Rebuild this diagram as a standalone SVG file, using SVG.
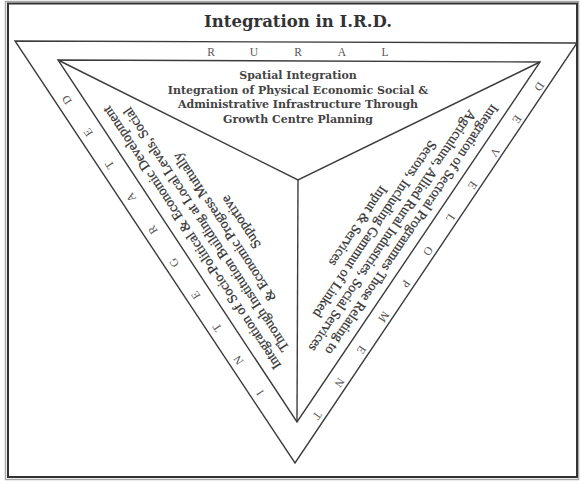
<svg xmlns="http://www.w3.org/2000/svg" width="581" height="484" viewBox="0 0 581 484">
<style>
.ln{fill:none;stroke:#3c3c3c;stroke-width:1.4;stroke-linejoin:miter}
.ttl{font-family:"DejaVu Serif","Liberation Serif",serif;font-weight:bold;fill:#333;text-anchor:middle}
.ctr{font-family:"DejaVu Serif","Liberation Serif",serif;font-weight:bold;font-size:11px;fill:#444;text-anchor:middle}
.rot{font-family:"Liberation Serif",serif;font-size:13.8px;fill:#333;stroke:#333;stroke-width:0.25;text-anchor:middle}
.let{font-family:"Liberation Serif",serif;font-size:11.5px;fill:#555;text-anchor:middle}
</style>
<rect x="0" y="0" width="581" height="484" fill="#fff"/>
<g id="frame">
<rect x="5.5" y="1.5" width="573" height="478" fill="none" stroke="#aaa" stroke-width="1.5"/>
<rect x="8" y="3.5" width="569" height="473.5" fill="none" stroke="#333" stroke-width="2"/>
</g>
<g id="title"><text class="ttl" x="298" y="27" font-size="16.5">Integration in I.R.D.</text></g>
<g id="connectors">
<polygon class="ln" points="15,41 577,43 295,463"/>
<polygon class="ln" points="58,60 540,62 297,422"/>
<polyline class="ln" points="58,60 298,180 540,62"/>
<line class="ln" x1="298" y1="180" x2="297" y2="422"/>
</g>
<g id="rural">
<text class="let" x="211" y="56">R</text>
<text class="let" x="254" y="56">U</text>
<text class="let" x="298" y="56">R</text>
<text class="let" x="342" y="56">A</text>
<text class="let" x="385" y="56">L</text>
</g>
<g id="integrated" transform="rotate(236.57)">
<text class="let" x="-471" y="4.5">I</text>
<text class="let" x="-432" y="4.5">N</text>
<text class="let" x="-393" y="4.5">T</text>
<text class="let" x="-354" y="4.5">E</text>
<text class="let" x="-315" y="4.5">G</text>
<text class="let" x="-276" y="4.5">R</text>
<text class="let" x="-237" y="4.5">A</text>
<text class="let" x="-198" y="4.5">T</text>
<text class="let" x="-159" y="4.5">E</text>
<text class="let" x="-120" y="4.5">D</text>
</g>
<g id="development" transform="rotate(124.02)">
<text class="let" x="-230" y="-491.5">D</text>
<text class="let" x="-190.3" y="-491.5">E</text>
<text class="let" x="-150.6" y="-491.5">V</text>
<text class="let" x="-110.9" y="-491.5">E</text>
<text class="let" x="-71.2" y="-491.5">L</text>
<text class="let" x="-31.5" y="-491.5">O</text>
<text class="let" x="8.2" y="-491.5">P</text>
<text class="let" x="47.9" y="-491.5">M</text>
<text class="let" x="87.6" y="-491.5">E</text>
<text class="let" x="127.3" y="-491.5">N</text>
<text class="let" x="167" y="-491.5">T</text>
</g>
<g id="spatial">
<text class="ctr" x="298" y="79">Spatial Integration</text>
<text class="ctr" x="298" y="93.5">Integration of Physical Economic Social &amp;</text>
<text class="ctr" x="298" y="108">Administrative Infrastructure Through</text>
<text class="ctr" x="298" y="122.5">Growth Centre Planning</text>
</g>
<g id="socio-political" transform="rotate(236.57)">
<text class="rot" x="-304" y="33.5">Integration of Socio-Political &amp; Economic Development</text>
<text class="rot" x="-305" y="50">Through Institution Building at Local Levels, Social</text>
<text class="rot" x="-313" y="66.5">&amp; Economic Progress Mutually</text>
<text class="rot" x="-318" y="83">Supportive</text>
</g>
<g id="sectoral" transform="rotate(124.02)">
<text class="rot" x="-40" y="-465.5">Integration of Sectoral Programmes Those Relating to</text>
<text class="rot" x="-28" y="-450">Agriculture, Allied Rural Industries, Social Services</text>
<text class="rot" x="-20" y="-434.5">Sectors, Including Gammut of Linked</text>
<text class="rot" x="-13" y="-419">Input &amp; Services</text>
</g>
</svg>
